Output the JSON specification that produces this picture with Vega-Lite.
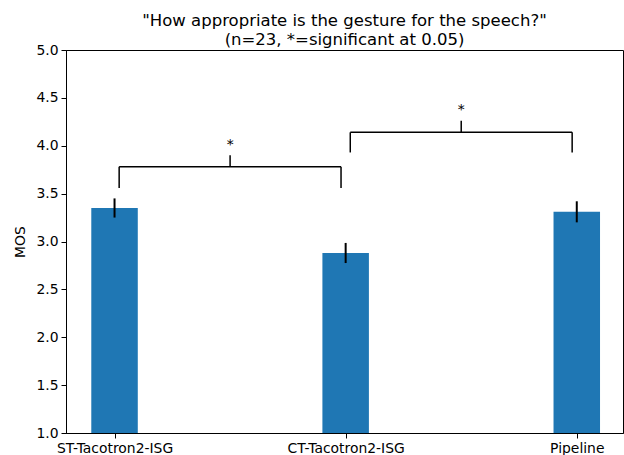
{
  "$schema": "https://vega.github.io/schema/vega-lite/v6.json",
  "autosize": {"type": "none"},
  "padding": {"left": 66, "top": 50, "right": 1, "bottom": 22},
  "width": 557,
  "height": 383,
  "background": "white",
  "config": {
    "font": "DejaVu Sans",
    "view": {"stroke": "black", "strokeWidth": 1},
    "axis": {
      "grid": false,
      "domainColor": "black",
      "domainWidth": 1,
      "tickColor": "black",
      "tickWidth": 1,
      "tickSize": 5,
      "labelColor": "black",
      "labelFont": "DejaVu Sans",
      "labelFontSize": 13.9,
      "labelPadding": 3,
      "titleFont": "DejaVu Sans",
      "titleFontSize": 13.9,
      "titleFontWeight": "normal",
      "titleColor": "black"
    }
  },
  "title": {
    "text": ["\"How appropriate is the gesture for the speech?\"", "(n=23, *=significant at 0.05)"],
    "font": "DejaVu Sans",
    "fontSize": 16.5,
    "fontWeight": "normal",
    "color": "black",
    "lineHeight": 19,
    "offset": -5,
    "anchor": "middle",
    "frame": "group"
  },
  "datasets": {
    "bars": [
      {"system": "ST-Tacotron2-ISG", "pos": 0, "mos": 3.35, "err": 0.10},
      {"system": "CT-Tacotron2-ISG", "pos": 1, "mos": 2.88, "err": 0.105},
      {"system": "Pipeline", "pos": 2, "mos": 3.31, "err": 0.11}
    ],
    "brackets": [
      {"x1": 0.02, "x2": 0.98, "xm": 0.5, "ybot": 3.56, "ytop": 3.78, "ytick": 3.9, "ylab": 3.97, "label": "*"},
      {"x1": 1.02, "x2": 1.98, "xm": 1.5, "ybot": 3.93, "ytop": 4.14, "ytick": 4.26, "ylab": 4.335, "label": "*"}
    ]
  },
  "layer": [
    {
      "data": {"name": "bars"},
      "mark": {"type": "bar", "color": "#1f77b4", "width": 46.5, "clip": true},
      "encoding": {
        "x": {
          "field": "pos", "type": "quantitative",
          "scale": {"domain": [-0.21, 2.2], "nice": false, "zero": false, "padding": 0},
          "axis": {
            "values": [0, 1, 2],
            "title": null,
            "labelExpr": "datum.value == 0 ? 'ST-Tacotron2-ISG' : datum.value == 1 ? 'CT-Tacotron2-ISG' : 'Pipeline'"
          }
        },
        "y": {
          "field": "mos", "type": "quantitative",
          "scale": {"domain": [1, 5], "nice": false, "zero": false, "padding": 0},
          "axis": {
            "values": [1, 1.5, 2, 2.5, 3, 3.5, 4, 4.5, 5],
            "format": ".1f",
            "title": "MOS",
            "titlePadding": 8
          }
        },
        "y2": {"datum": 1}
      }
    },
    {
      "data": {"name": "bars"},
      "mark": {"type": "errorbar", "color": "black", "thickness": 2, "ticks": false},
      "encoding": {
        "x": {"field": "pos", "type": "quantitative", "title": null},
        "y": {"field": "mos", "type": "quantitative", "title": "MOS"},
        "yError": {"field": "err"}
      }
    },
    {
      "data": {"name": "brackets"},
      "mark": {"type": "rule", "color": "black", "strokeWidth": 1.5},
      "encoding": {
        "x": {"field": "x1", "type": "quantitative", "title": null},
        "y": {"field": "ybot", "type": "quantitative", "title": "MOS"},
        "y2": {"field": "ytop"}
      }
    },
    {
      "data": {"name": "brackets"},
      "mark": {"type": "rule", "color": "black", "strokeWidth": 1.5},
      "encoding": {
        "x": {"field": "x2", "type": "quantitative", "title": null},
        "y": {"field": "ybot", "type": "quantitative", "title": "MOS"},
        "y2": {"field": "ytop"}
      }
    },
    {
      "data": {"name": "brackets"},
      "mark": {"type": "rule", "color": "black", "strokeWidth": 1.5},
      "encoding": {
        "x": {"field": "x1", "type": "quantitative", "title": null},
        "x2": {"field": "x2"},
        "y": {"field": "ytop", "type": "quantitative", "title": "MOS"}
      }
    },
    {
      "data": {"name": "brackets"},
      "mark": {"type": "rule", "color": "black", "strokeWidth": 1.5},
      "encoding": {
        "x": {"field": "xm", "type": "quantitative", "title": null},
        "y": {"field": "ytop", "type": "quantitative", "title": "MOS"},
        "y2": {"field": "ytick"}
      }
    },
    {
      "data": {"name": "brackets"},
      "mark": {"type": "text", "color": "black", "font": "DejaVu Sans", "fontSize": 13.9, "baseline": "alphabetic", "align": "center"},
      "encoding": {
        "x": {"field": "xm", "type": "quantitative", "title": null},
        "y": {"field": "ylab", "type": "quantitative", "title": "MOS"},
        "text": {"field": "label"}
      }
    }
  ]
}
